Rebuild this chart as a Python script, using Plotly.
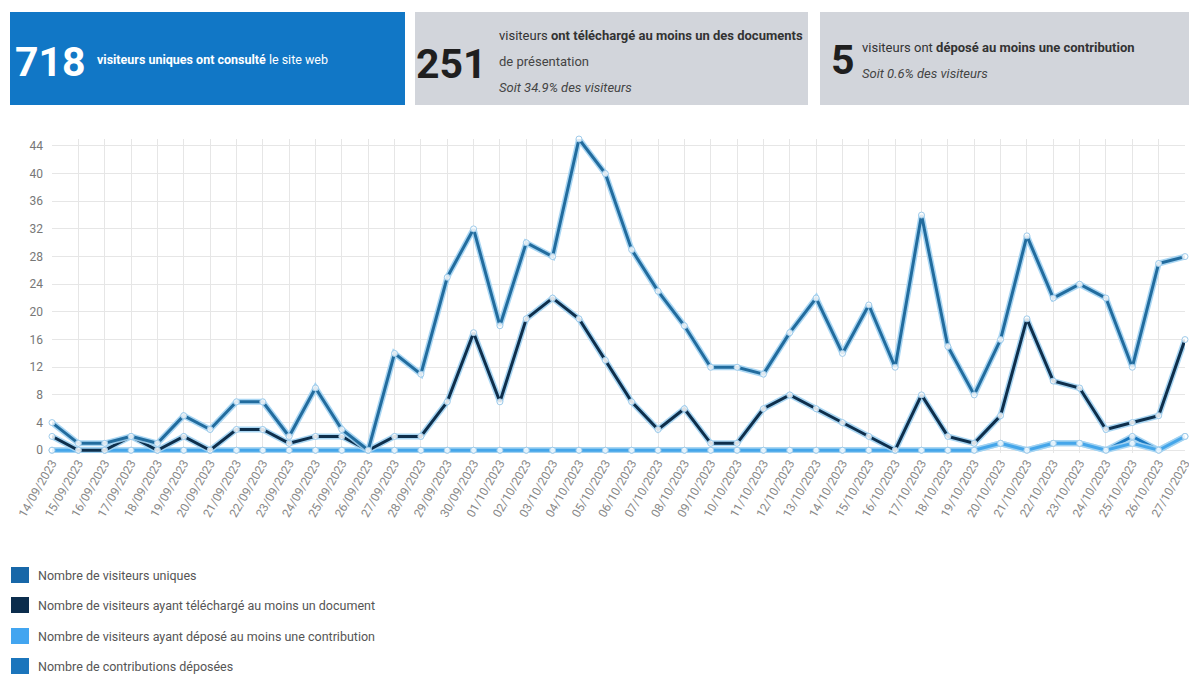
import plotly.graph_objects as go

dates = ["14/09/2023","15/09/2023","16/09/2023","17/09/2023","18/09/2023","19/09/2023","20/09/2023",
         "21/09/2023","22/09/2023","23/09/2023","24/09/2023","25/09/2023","26/09/2023","27/09/2023",
         "28/09/2023","29/09/2023","30/09/2023","01/10/2023","02/10/2023","03/10/2023","04/10/2023",
         "05/10/2023","06/10/2023","07/10/2023","08/10/2023","09/10/2023","10/10/2023","11/10/2023",
         "12/10/2023","13/10/2023","14/10/2023","15/10/2023","16/10/2023","17/10/2023","18/10/2023",
         "19/10/2023","20/10/2023","21/10/2023","22/10/2023","23/10/2023","24/10/2023","25/10/2023",
         "26/10/2023","27/10/2023"]

visiteurs_uniques = [4,1,1,2,1,5,3,7,7,2,9,3,0,14,11,25,32,18,30,28,45,40,29,23,18,12,12,11,
                     17,22,14,21,12,34,15,8,16,31,22,24,22,12,27,28]
visiteurs_telechargement = [2,0,0,2,0,2,0,3,3,1,2,2,0,2,2,7,17,7,19,22,19,13,7,3,6,1,1,6,
                            8,6,4,2,0,8,2,1,5,19,10,9,3,4,5,16]
visiteurs_contribution = [0,0,0,0,0,0,0,0,0,0,0,0,0,0,0,0,0,0,0,0,0,0,0,0,0,0,0,0,
                          0,0,0,0,0,0,0,0,1,0,1,1,0,1,0,2]
contributions_deposees = [0,0,0,0,0,0,0,0,0,0,0,0,0,0,0,0,0,0,0,0,0,0,0,0,0,0,0,0,
                          0,0,0,0,0,0,0,0,1,0,1,1,0,2,0,2]

series_names = ["Nombre de visiteurs uniques",
                "Nombre de visiteurs ayant téléchargé au moins un document",
                "Nombre de visiteurs ayant déposé au moins une contribution",
                "Nombre de contributions déposées"]
series_values = [visiteurs_uniques, visiteurs_telechargement, visiteurs_contribution, contributions_deposees]
line_colors = ["#226c9e", "#0e2f4c", "#45a6ea", "#1a78c0"]
legend_colors = ["#1767a8", "#0b2d4d", "#42a5f0", "#1b75bc"]
y_ticks = [0, 4, 8, 12, 16, 20, 24, 28, 32, 36, 40, 44]

FONT = "Liberation Sans Narrow, Roboto, Arial, sans-serif"

# the page adds an 8px body margin; the figure is sized/offset to compensate
OFF = 8
W, H = 1197 - OFF, 675 - OFF
ML, MR, MT, MB = 52 - OFF, 12, 139 - OFF, 222
PW, PH = W - ML - MR, H - MT - MB

fig = go.Figure()
draw_order = [3, 2, 1, 0]
for i in draw_order:
    fig.add_trace(go.Scatter(
        x=dates, y=series_values[i], mode="lines", showlegend=False, hoverinfo="skip",
        line=dict(color="rgba(160,210,242,0.9)", width=6), cliponaxis=False))
    fig.add_trace(go.Scatter(
        x=dates, y=series_values[i], mode="lines+markers", name=series_names[i], showlegend=False,
        line=dict(color=line_colors[i], width=3),
        marker=dict(symbol="circle", size=6, color="rgba(255,255,255,0.85)",
                    line=dict(color="#9fcbea", width=1)),
        cliponaxis=False))

fig.update_layout(
    width=W, height=H,
    margin=dict(l=ML, r=MR, t=MT, b=MB),
    paper_bgcolor="white", plot_bgcolor="white",
    font=dict(family=FONT, color="#666"),
    showlegend=False,
    xaxis=dict(type="category", range=[0, 43], showgrid=True, gridcolor="#e6e6e6", gridwidth=1,
               tickangle=-60, tickfont=dict(size=12, color="#888"), ticks="", showline=False,
               zeroline=False, automargin=False),
    yaxis=dict(range=[-0.4, 45], tickvals=y_ticks, showgrid=True, gridcolor="#e6e6e6",
               tickfont=dict(size=12, color="#777"), zeroline=False, showline=False,
               ticklabelstandoff=8, automargin=False),
)

def px(x):
    return (x - OFF - ML) / PW
def py(y):
    return (H - MB - (y - OFF)) / PH

# top KPI boxes (reference pixel coordinates)
boxes = [(10, 12, 405, 105, "#1177c6"), (415, 12, 808, 105, "#d2d5db"), (820, 12, 1197, 105, "#d2d5db")]
for x0, y0, x1, y1, c in boxes:
    fig.add_shape(type="rect", xref="paper", yref="paper", x0=px(x0), x1=px(x1), y0=py(y1), y1=py(y0),
                  fillcolor=c, line=dict(width=0), layer="below")

def ann(x, y, text, size, color, xanchor="left", yanchor="middle"):
    fig.add_annotation(xref="paper", yref="paper", x=px(x), y=py(y), text=text, showarrow=False,
                       xanchor=xanchor, yanchor=yanchor, font=dict(family=FONT, size=size, color=color))

ann(88, 62, "<b>718</b>", 41, "white", xanchor="right")
ann(95, 60, "<b>visiteurs uniques ont consulté</b> le site web", 12.5, "white")
ann(489, 64, "<b>251</b>", 41, "#1f1f1f", xanchor="right")
ann(497, 35, "visiteurs <b>ont téléchargé au moins un des documents</b>", 13, "#333")
ann(497, 61, "de présentation", 13, "#444")
ann(497, 87, "<i>Soit 34.9% des visiteurs</i>", 13, "#444")
ann(829, 60, "<b>5</b>", 41, "#1f1f1f")
ann(860, 47, "visiteurs ont <b>déposé au moins une contribution</b>", 13, "#333")
ann(860, 73, "<i>Soit 0.6% des visiteurs</i>", 13, "#444")

# legend
leg_y = [575, 605, 636, 666]
for name, c, y in zip(series_names, legend_colors, leg_y):
    fig.add_shape(type="rect", xref="paper", yref="paper", x0=px(11), x1=px(29), y0=py(y + 8), y1=py(y - 8),
                  fillcolor=c, line=dict(width=0))
    ann(36, y, name, 12.5, "#555")

fig.write_html("out.html")
